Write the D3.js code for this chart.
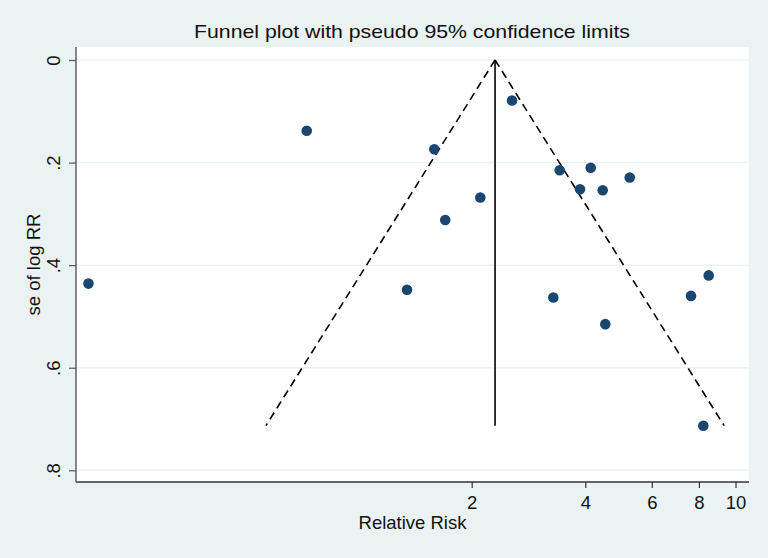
<!DOCTYPE html>
<html>
<head>
<meta charset="utf-8">
<script src="https://cdn.jsdelivr.net/npm/d3@7"></script>
<style>
    html, body { margin: 0; padding: 0; background: #eaf2f3; }
    svg { display: block; font-family: "Liberation Sans", Arial, Helvetica, sans-serif; }
</style>
</head>
<body>
<div id="chart-funnel"></div>
<script>
/* study estimates: relative risk and standard error of log RR */
var studyRR = [0.193, 0.731, 1.348, 1.592, 1.702, 2.108, 2.558, 3.291, 3.421,
               3.873, 4.134, 4.448, 4.519, 5.245, 7.622, 8.492, 8.217];
var studySE = [0.436, 0.138, 0.448, 0.174, 0.312, 0.268, 0.079, 0.463, 0.215,
               0.252, 0.210, 0.254, 0.515, 0.229, 0.460, 0.420, 0.713];

/* pooled estimate and pseudo 95% limits at top and bottom of the funnel */
var funnelSE    = [0, 0.713];
var funnelLower = [2.306, 0.570];
var funnelUpper = [2.306, 9.33];
var pooledRR    = [2.306, 2.306];

/* axis ticks */
var xTicks = [2, 4, 6, 8, 10];
var yTicks = [0, 0.2, 0.4, 0.6, 0.8];
var yTickLabels = ["0", ".2", ".4", ".6", ".8"];

(function () {

    var W = 768, H = 558;
    var NAVY = "#1a476f";
    var GRID = "#eaf2f3";

    /* plot region box */
    var PL = 76, PR = 749, PT = 47, PB = 482;

    var svg = d3.select("#chart-funnel")
        .append("svg")
        .attr("width", W)
        .attr("height", H);

    svg.append("rect")
        .attr("width", W).attr("height", H)
        .attr("fill", "#eaf2f3");

    svg.append("rect")
        .attr("x", PL).attr("y", PT)
        .attr("width", PR - PL).attr("height", PB - PT)
        .attr("fill", "#ffffff");

    /* scales */
    var x = d3.scaleLog()
        .domain([0.1789, 10.858])
        .range([PL, PR]);

    var y = d3.scaleLinear()
        .domain([0, 0.8])
        .range([60, 470.3]);

    /* grid lines */
    svg.append("g")
        .selectAll("line")
        .data(yTicks)
        .enter()
        .append("line")
        .attr("x1", PL).attr("x2", PR)
        .attr("y1", function (d) { return y(d); })
        .attr("y2", function (d) { return y(d); })
        .attr("stroke", GRID)
        .attr("stroke-width", 1.5);

    /* funnel */
    var line = d3.line()
        .x(function (d) { return x(d[0]); })
        .y(function (d) { return y(d[1]); });

    function pts(rr) {
        return rr.map(function (v, i) { return [v, funnelSE[i]]; });
    }

    [funnelLower, funnelUpper].forEach(function (rr) {
        svg.append("path")
            .attr("d", line(pts(rr)))
            .attr("fill", "none")
            .attr("stroke", "#000")
            .attr("stroke-width", 1.6)
            .attr("stroke-dasharray", "8,5");
    });

    svg.append("path")
        .attr("d", line(pts(pooledRR)))
        .attr("fill", "none")
        .attr("stroke", "#000")
        .attr("stroke-width", 1.6);

    /* study points */
    svg.append("g")
        .selectAll("circle")
        .data(studyRR)
        .enter()
        .append("circle")
        .attr("cx", function (d) { return x(d); })
        .attr("cy", function (d, i) { return y(studySE[i]); })
        .attr("r", 5.3)
        .attr("fill", NAVY);

    /* x axis */
    var xAxis = d3.axisBottom(x)
        .tickValues(xTicks)
        .tickFormat(d3.format("d"))
        .tickSize(6)
        .tickSizeOuter(0)
        .tickPadding(8);

    var gx = svg.append("g")
        .attr("transform", "translate(0," + PB + ")")
        .call(xAxis);
    gx.select(".domain")
        .attr("d", "M" + PL + ",0H" + PR)
        .attr("stroke", "#333")
        .attr("stroke-width", 1.4);
    gx.selectAll(".tick line").attr("stroke", "#333").attr("stroke-width", 1.2);
    gx.selectAll(".tick text")
        .attr("font-size", 18.5)
        .attr("fill", "#111")
        .attr("font-family", "Liberation Sans, Arial, sans-serif");

    /* y axis, labels turned upright like Stata */
    var yAxis = d3.axisLeft(y)
        .tickValues(yTicks)
        .tickFormat(function (d, i) { return yTickLabels[i]; })
        .tickSize(7)
        .tickSizeOuter(0);

    var gy = svg.append("g")
        .attr("transform", "translate(" + PL + ",0)")
        .call(yAxis);
    gy.select(".domain")
        .attr("d", "M0," + PT + "V" + PB)
        .attr("stroke", "#555")
        .attr("stroke-width", 1.4);
    gy.selectAll(".tick line").attr("stroke", "#555").attr("stroke-width", 1.2);
    gy.selectAll(".tick text")
        .attr("x", null).attr("dy", null)
        .attr("transform", "translate(-16.5,0) rotate(-90)")
        .attr("text-anchor", "middle")
        .attr("font-size", 18.5)
        .attr("fill", "#111")
        .attr("font-family", "Liberation Sans, Arial, sans-serif");

    /* axis titles */
    svg.append("text")
        .attr("x", (PL + PR) / 2)
        .attr("y", 529)
        .attr("text-anchor", "middle")
        .attr("font-size", 18.5)
        .attr("fill", "#111")
        .text("Relative Risk");

    svg.append("text")
        .attr("transform", "translate(40," + ((PT + PB) / 2) + ") rotate(-90)")
        .attr("text-anchor", "middle")
        .attr("font-size", 18.5)
        .attr("fill", "#111")
        .text("se of log RR");

    /* title */
    svg.append("text")
        .attr("x", 412)
        .attr("y", 38)
        .attr("text-anchor", "middle")
        .attr("font-size", 19)
        .attr("textLength", 436)
        .attr("lengthAdjust", "spacingAndGlyphs")
        .attr("fill", "#111")
        .text("Funnel plot with pseudo 95% confidence limits");

}());
</script>
</body>
</html>
